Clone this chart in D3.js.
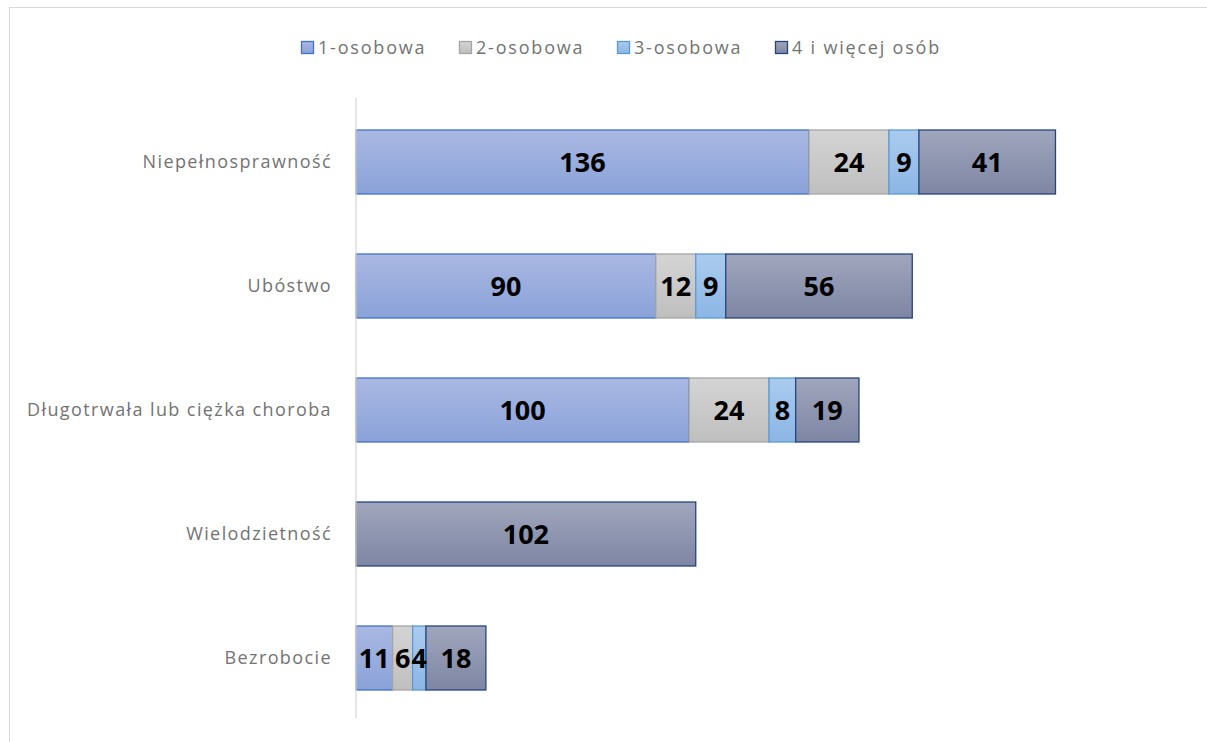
<!DOCTYPE html>
<html><head><meta charset="utf-8">
<script src="https://cdn.jsdelivr.net/npm/d3@7"></script>
<style>body{margin:0;background:#fff}svg{display:block}</style>
</head><body>
<svg id="c" width="1207" height="742"></svg>
<script>
const categories = ["Niepełnosprawność","Ubóstwo","Długotrwała lub ciężka choroba","Wielodzietność","Bezrobocie"];
const seriesNames = ["1-osobowa","2-osobowa","3-osobowa","4 i więcej osób"];
const s1 = [136, 90, 100, 0, 11];
const s2 = [24, 12, 24, 0, 6];
const s3 = [9, 9, 8, 0, 4];
const s4 = [41, 56, 19, 102, 18];
const seriesValues = [s1, s2, s3, s4];

const fills = [["#aab8e2","#8aa2d9"],["#d4d4d4","#bfbfbf"],["#abcbee","#8cb6e5"],["#a0a6bc","#7e86a4"]];
const strokes = ["#4472c4","#a5a5a5","#5b9bd5","#264478"];

const svg = d3.select("#c");
const font = "'Open Sans', 'Liberation Sans', sans-serif";
svg.append("rect").attr("x",9.5).attr("y",7.5).attr("width",1250).attr("height",760).attr("fill","#fff").attr("stroke","#d9d9d9");

const defs = svg.append("defs");
fills.forEach((f,i)=>{
  const g = defs.append("linearGradient").attr("id","g"+i).attr("x1",0).attr("x2",0).attr("y1",0).attr("y2",1);
  g.append("stop").attr("offset","0%").attr("stop-color",f[0]);
  g.append("stop").attr("offset","100%").attr("stop-color",f[1]);
});

const x0 = 356;
const x = d3.scaleLinear().domain([0,136]).range([x0, 809]);
const y = d3.scaleBand().domain(categories).range([100,720]).paddingInner(0.484).paddingOuter(0.242);

const rows = categories.map((c,i)=>{const o={cat:c}; seriesNames.forEach((s,j)=>o[s]=seriesValues[j][i]); return o;});
const stack = d3.stack().keys(seriesNames)(rows);

stack.forEach((layer,j)=>{
  const g = svg.append("g");
  layer.forEach(d=>{
    const v = d[1]-d[0];
    if(v<=0) return;
    const cat = d.data.cat;
    g.append("rect").attr("x",x(d[0])).attr("y",y(cat)).attr("width",x(d[1])-x(d[0])).attr("height",y.bandwidth())
      .attr("fill","url(#g"+j+")").attr("stroke",strokes[j]).attr("stroke-width",1.3);
  });
});
stack.forEach((layer,j)=>{
  layer.forEach(d=>{
    const v = d[1]-d[0];
    if(v<=0) return;
    svg.append("text").attr("x",(x(d[0])+x(d[1]))/2).attr("y",y(d.data.cat)+y.bandwidth()/2)
      .attr("dy","0.36em").attr("text-anchor","middle").attr("font-family",font).attr("font-weight","bold")
      .attr("font-size",27).attr("fill","#000").text(v);
  });
});

svg.append("line").attr("x1",x0).attr("x2",x0).attr("y1",98).attr("y2",718).attr("stroke","#d9d9d9").attr("stroke-width",1.3);
const yAxis = d3.axisLeft(y).tickSize(0).tickPadding(24);
const ga = svg.append("g").attr("transform",`translate(${x0},0)`).call(yAxis);
ga.select(".domain").remove();
ga.selectAll("text").attr("font-family",font).attr("font-size",18).attr("letter-spacing","1.4px").attr("fill","#737373");

const legX = [301, 459, 617, 775];
seriesNames.forEach((s,i)=>{
  svg.append("rect").attr("x",legX[i]+0.5).attr("y",41.5).attr("width",12).attr("height",12)
    .attr("fill","url(#g"+i+")").attr("stroke",strokes[i]).attr("stroke-width",1.3);
  svg.append("text").attr("x",legX[i]+17).attr("y",47.5).attr("dy","0.36em").attr("font-family",font)
    .attr("font-size",18).attr("letter-spacing","1.8px").attr("fill","#737373").text(s);
});
</script>
</body></html>
